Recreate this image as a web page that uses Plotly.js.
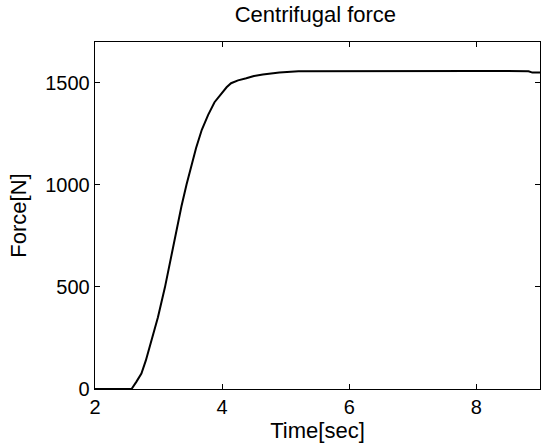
<!DOCTYPE html>
<html>
<head>
<meta charset="utf-8">
<script src="https://cdn.plot.ly/plotly-3.0.1.min.js"></script>
<style>html,body{margin:0;padding:0;background:#fff;}#chart{width:541px;height:446px;}</style>
</head>
<body>
<div id="chart"></div>
<script>
var time  = [2, 2.575, 2.65, 2.73, 2.80, 2.86, 2.99, 3.10, 3.20, 3.28, 3.36, 3.44, 3.52, 3.59, 3.68, 3.78, 3.88, 3.99, 4.07, 4.14, 4.25, 4.38, 4.50, 4.64, 4.9, 5.2, 6, 7, 8, 8.82, 8.88, 9];
var force = [0, 0, 35, 76, 140, 206, 352, 498, 650, 785, 895, 1002, 1095, 1181, 1270, 1343, 1405, 1449, 1478, 1498, 1512, 1522, 1533, 1541, 1551, 1557, 1558, 1558, 1558, 1557, 1550, 1550];
var titleText = "Centrifugal force";
var xTitle = "Time[sec]";
var yTitle = "Force[N]";

var fontFam = "Liberation Sans, Arial, Helvetica, sans-serif";
var axisCommon = {
  showline: true, mirror: 'ticks', linecolor: '#000', linewidth: 1.3,
  ticks: 'inside', ticklen: 5, tickcolor: '#000', tickwidth: 1,
  showgrid: false, zeroline: false,
  tickfont: {family: fontFam, size: 20, color: '#000'}
};
var layout = {
  width: 541, height: 446,
  margin: {l: 95, r: 1, t: 42, b: 57},
  paper_bgcolor: '#fff', plot_bgcolor: '#fff',
  showlegend: false,
  title: {text: titleText, font: {family: fontFam, size: 22, color: '#000'}, x: 0.583, xanchor: 'center', y: 0.985, yanchor: 'top'},
  xaxis: Object.assign({}, axisCommon, {
    range: [2, 9], tick0: 2, dtick: 2,
    title: {text: xTitle, font: {family: fontFam, size: 22, color: '#000'}, standoff: 0}
  }),
  yaxis: Object.assign({}, axisCommon, {
    range: [0, 1700], tick0: 0, dtick: 500,
    title: {text: yTitle, font: {family: fontFam, size: 22, color: '#000'}, standoff: 12}
  })
};
Plotly.newPlot('chart', [{
  x: time, y: force, type: 'scatter', mode: 'lines',
  line: {color: '#000', width: 2}
}], layout, {staticPlot: true, displayModeBar: false});
</script>
</body>
</html>
